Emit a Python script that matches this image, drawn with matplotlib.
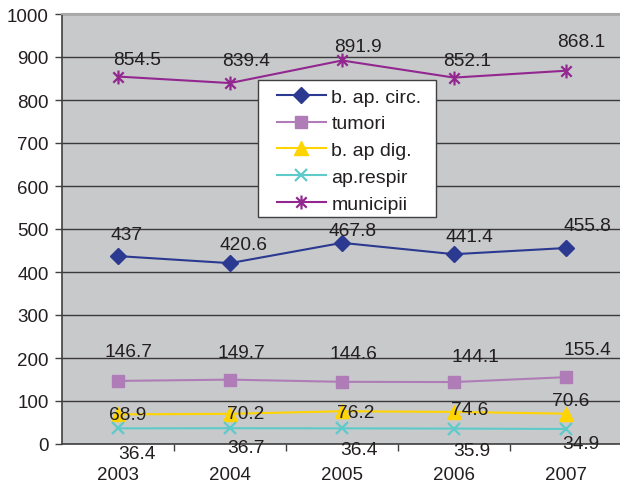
import matplotlib
matplotlib.use("Agg")
import matplotlib.pyplot as plt
from matplotlib.path import Path
from matplotlib.patches import Rectangle

years = ["2003", "2004", "2005", "2006", "2007"]
circ = [437, 420.6, 467.8, 441.4, 455.8]
tumori = [146.7, 149.7, 144.6, 144.1, 155.4]
dig = [68.9, 70.2, 76.2, 74.6, 70.6]
respir = [36.4, 36.7, 36.4, 35.9, 34.9]
municipii = [854.5, 839.4, 891.9, 852.1, 868.1]

labels = ["b. ap. circ.", "tumori", "b. ap dig.", "ap.respir", "municipii"]
colors = ["#2B3990", "#B07CB8", "#FFD400", "#5FCACA", "#92278F"]

# value-label offsets (pixels, x right / y up) relative to each point
label_offsets = {
    "b. ap. circ.": [(9, 24), (14, 21), (11, 14), (15, 20), (21, 25)],
    "tumori": [(11, 32), (11, 29), (11, 30), (21, 28), (21, 30)],
    "b. ap dig.": [(10, 2), (16, 2), (14, 1), (16, 5), (5, 15)],
    "ap.respir": [(19, -23), (16, -17), (17, -19), (18, -20), (15, -12)],
    "municipii": [(19, 19), (16, 25), (16, 16.5), (13, 19.6), (15, 31)],
}

plt.rcParams["font.family"] = ["Liberation Sans", "DejaVu Sans"]
FS_TICK = 13.5
FS_LABEL = 13.8
FS_LEG = 14

# asterisk marker: vertical bar plus an X
ast = Path([(0, -1), (0, 1), (-0.75, -0.75), (0.75, 0.75), (-0.75, 0.75), (0.75, -0.75)],
           [Path.MOVETO, Path.LINETO, Path.MOVETO, Path.LINETO, Path.MOVETO, Path.LINETO])

markers = ["D", "s", "^", "x", ast]
msizes = [8, 8.5, 10, 9, 10]

fig = plt.figure(figsize=(6.2, 4.85), dpi=100)
ax = fig.add_axes([62 / 620, 40 / 485, 560 / 620, 430 / 485])
ax.set_facecolor("#C8C9CB")

series = [circ, tumori, dig, respir, municipii]
x = list(range(len(years)))
for vals, lab, col, mk, ms in zip(series, labels, colors, markers, msizes):
    ax.plot(x, vals, color=col, lw=1.5, marker=mk, markersize=ms,
            markeredgewidth=1.6 if (mk == "x" or mk is ast) else 1,
            markerfacecolor=col, markeredgecolor=col, label=lab, zorder=3,
            clip_on=False)
    for xi, v, (dx, dy) in zip(x, vals, label_offsets[lab]):
        ax.annotate(f"{v:g}", (xi, v), xytext=(dx, dy - 6.6),
                    textcoords="offset pixels", ha="center", va="baseline",
                    fontsize=FS_LABEL, color="#231F20", zorder=4,
                    annotation_clip=False)

ax.set_xlim(-0.5, 4.5)
ax.set_ylim(0, 1000)
ax.set_yticks(range(0, 1001, 100))
ax.tick_params(axis="y", labelsize=FS_TICK, length=5, width=1, color="#404040",
               pad=4.5, labelcolor="#231F20")
ax.set_xticks(x)
ax.set_xticklabels(years)
ax.set_xticks([0.5, 1.5, 2.5, 3.5], minor=True)
ax.tick_params(axis="x", which="major", length=0, labelsize=FS_TICK, pad=16,
               labelcolor="#231F20")
ax.tick_params(axis="x", which="minor", length=5, width=1, color="#404040")
ax.grid(axis="y", color="#3A3A3A", lw=1)
ax.set_axisbelow(True)

for s in ("left", "bottom"):
    ax.spines[s].set_color("#404040")
    ax.spines[s].set_linewidth(1.2)
ax.spines["top"].set_color("#A8A8A8")
ax.spines["top"].set_linewidth(1.5)
ax.spines["right"].set_visible(False)

# legend box drawn as a separate white rectangle with a dark border
W, H = 620, 485
ax.add_patch(Rectangle((258 / W, 1 - 218 / H), 178 / W, 137 / H,
                       transform=fig.transFigure, facecolor="white",
                       edgecolor="#404040", lw=1, zorder=4.5, clip_on=False))
leg = ax.legend(loc="upper left", bbox_to_anchor=(277 / W, 1 - 89 / H),
                bbox_transform=fig.transFigure, fontsize=FS_LEG, frameon=False,
                handlelength=2.5, handletextpad=0.3, labelspacing=0.47,
                borderpad=0, borderaxespad=0)
leg.set_zorder(5)
for t in leg.get_texts():
    t.set_color("#231F20")

fig.savefig("out.png", dpi=100, facecolor="white")
